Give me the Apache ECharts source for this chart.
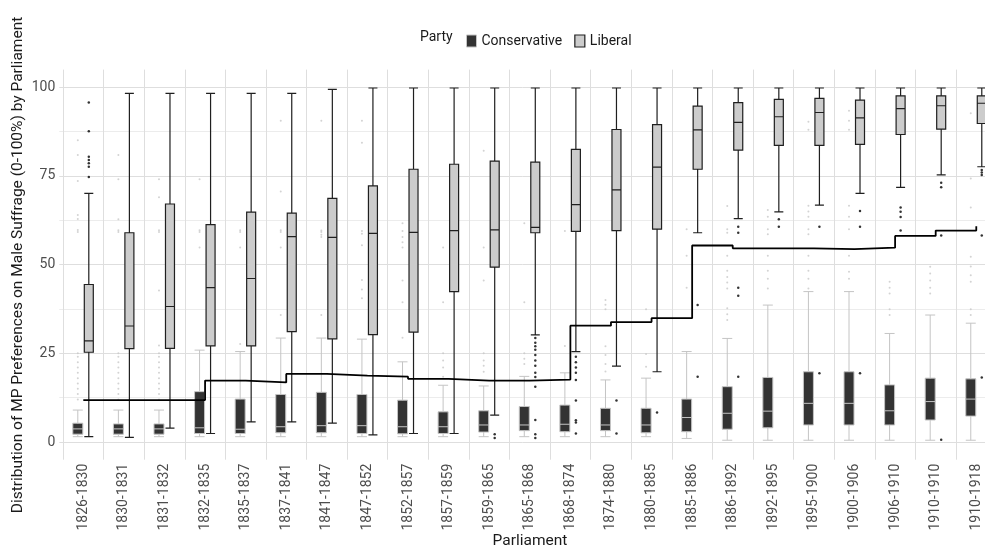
<!DOCTYPE html>
<html>
<head>
<meta charset="UTF-8">
<title>MP Preferences on Male Suffrage</title>
<script src="https://cdn.jsdelivr.net/npm/echarts@6/dist/echarts.min.js"></script>
<style>
  html, body { margin: 0; padding: 0; background: #fff; }
  #chart { width: 985px; height: 549px; }
</style>
</head>
<body>
<div id="chart"></div>
<script>
// parliaments (x categories)
var parliaments = ['1826-1830', '1830-1831', '1831-1832', '1832-1835', '1835-1837', '1837-1841',
  '1841-1847', '1847-1852', '1852-1857', '1857-1859', '1859-1865', '1865-1868', '1868-1874',
  '1874-1880', '1880-1885', '1885-1886', '1886-1892', '1892-1895', '1895-1900', '1900-1906',
  '1906-1910', '1910-1910', '1910-1918'];

// boxplot stats: [lower whisker, Q1, median, Q3, upper whisker]
var conservativeBox = [
  [1.5, 2.2, 3.7, 5.3, 9.0], [1.5, 2.2, 3.7, 5.1, 9.0], [1.5, 2.2, 3.7, 5.1, 9.0],
  [1.5, 2.4, 4.0, 14.2, 25.9], [1.5, 2.4, 3.6, 12.1, 25.5], [1.5, 2.6, 4.3, 13.4, 29.3],
  [1.5, 2.6, 4.6, 14.0, 29.3], [1.5, 2.4, 4.6, 13.4, 29.0], [1.5, 2.3, 4.3, 11.8, 22.6],
  [1.5, 2.4, 4.3, 8.5, 16.0], [1.5, 2.8, 4.8, 8.8, 15.8], [1.5, 3.2, 4.8, 10.0, 18.5],
  [1.5, 2.9, 5.0, 10.4, 19.5], [1.5, 3.2, 4.8, 9.5, 17.5], [1.5, 2.6, 4.8, 9.5, 18.0],
  [1.0, 2.9, 6.9, 12.1, 25.5], [0.5, 3.6, 8.1, 15.6, 29.2], [0.5, 4.0, 8.7, 18.2, 38.6],
  [0.5, 4.8, 10.9, 19.8, 42.4], [0.5, 4.8, 10.9, 19.8, 42.4], [0.5, 4.8, 8.8, 16.1, 30.6],
  [0.5, 6.2, 11.4, 18.0, 35.8], [0.5, 7.3, 12.1, 17.8, 33.5]
];
var liberalBox = [
  [1.5, 25.3, 28.5, 44.4, 70.1], [1.3, 26.3, 32.7, 59.0, 98.3], [3.9, 26.4, 38.2, 67.1, 98.3],
  [2.4, 27.1, 43.5, 61.3, 98.3], [5.7, 27.1, 46.1, 64.8, 98.3], [5.7, 31.1, 57.9, 64.5, 98.3],
  [5.3, 29.1, 57.7, 68.7, 99.4], [2.0, 30.3, 58.8, 72.2, 99.8], [2.4, 31.0, 59.1, 76.9, 99.8],
  [2.4, 42.4, 59.6, 78.3, 99.8], [7.6, 49.3, 59.8, 79.2, 99.8], [30.2, 59.0, 60.5, 78.9, 99.8],
  [25.5, 59.4, 66.9, 82.5, 99.8], [21.4, 59.6, 71.1, 88.1, 99.8], [19.8, 60.0, 77.5, 89.5, 99.8],
  [59.0, 76.9, 88.0, 94.7, 99.8], [63.0, 82.3, 90.1, 95.7, 99.8], [64.9, 83.6, 91.7, 96.6, 99.8],
  [66.8, 83.6, 92.9, 96.9, 99.8], [70.1, 83.9, 91.4, 96.4, 99.8], [71.8, 86.7, 94.0, 97.6, 99.8],
  [75.3, 88.2, 94.8, 97.6, 99.8], [77.6, 89.8, 95.5, 97.6, 99.8]
];

// outliers per parliament
var early = [12, 13.5, 15, 16.5, 18, 19.5, 21, 22.5, 24, 25];
var conservativeOut = [
  [85.1, 80.9, 73.6, 64.0, 62.9, 59.8, 59.2].concat(early),
  [80.9, 74.1, 62.8, 59.7, 59.2].concat(early),
  [74.1, 69.0, 59.7, 59.2, 42.7, 27.2].concat(early),
  [74.1, 59.7, 59.2, 54.8],
  [59.7, 59.2, 54.8, 27.6],
  [90.6, 70.6, 59.7, 59.2, 54.8, 35.8],
  [90.6, 59.6, 59.2, 58.4, 57.8, 35.8],
  [90.6, 84.4, 59.5, 58.7, 55.5, 45.7, 43.0, 40.5],
  [61.7, 59.5, 57.8, 56.3, 54.8, 45.5, 39.4, 29.4],
  [54.8, 39.4, 25.0, 23.0, 21.0, 18.4],
  [82.1, 54.8, 45.5, 25.0, 23.0, 21.5, 19.8],
  [61.7, 39.4, 25.0, 23.5, 22.0],
  [59.5, 27.1],
  [40.0, 38.7, 37.4, 27.0, 24.5, 22.0, 19.9],
  [37.4, 24.8, 21.2],
  [60.0, 52.5, 43.5],
  [66.5, 60.0, 59.0, 52.5, 48.3, 46.5, 45.0, 43.3, 37.7, 36.0, 34.4],
  [65.4, 63.5, 60.0, 58.6, 52.5, 48.3, 46.0, 43.3],
  [90.3, 88.0, 66.6, 65.0, 63.5, 60.0, 58.6, 52.5, 48.3, 46.0, 43.3],
  [93.4, 90.6, 88.0, 66.6, 63.5, 60.0, 52.5, 48.0, 46.0],
  [45.2, 43.5, 41.9, 37.4, 35.8],
  [49.4, 47.5, 45.5, 43.5, 41.9],
  [92.7, 74.3, 66.1, 52.2, 49.5, 47.0, 45.2, 37.4, 35.8]
];
var liberalOut = [
  [95.7, 87.6, 80.4, 79.5, 78.6, 77.6, 74.7],
  [], [], [], [], [], [], [], [], [],
  [2.2, 1.1],
  [29.3, 28.0, 27.0, 26.0, 24.5, 23.0, 21.5, 19.5, 18.3, 15.6, 6.2, 2.2, 1.1],
  [24.0, 22.5, 21.0, 19.5, 17.5, 11.7, 6.1, 5.5, 2.4],
  [11.7, 2.4],
  [8.3],
  [38.6, 18.4],
  [60.7, 59.0, 43.5, 41.2, 18.4],
  [62.8, 60.7],
  [60.7, 19.4],
  [65.1, 60.7, 19.4],
  [66.1, 64.9, 63.4, 59.6],
  [73.1, 71.8, 58.2, 0.6],
  [76.7, 76.0, 75.3, 58.2, 18.2]
];

// step line across parliaments
var stepValues = [11.8, 11.8, 11.8, 17.3, 16.8, 19.2, 18.7, 18.4, 17.8, 17.3, 17.3, 17.6,
  32.8, 33.8, 34.9, 55.4, 54.6, 54.6, 54.4, 54.8, 58.1, 59.6, 60.8];

var yTicks = [0, 25, 50, 75, 100];

function toPoints(list) {
  var pts = [];
  list.forEach(function (vals, i) {
    vals.forEach(function (v) { pts.push([i, v]); });
  });
  return pts;
}

var chart = echarts.init(document.getElementById('chart'));
var font = 'Roboto, "Noto Sans", sans-serif';
var bandW = 40.59;
var plotLeft = 83.3 - bandW / 2;
var plotW = bandW * parliaments.length;
var conStyle = { color: '#333333', borderColor: '#c4c4c4', borderWidth: 1 };
var libStyle = { color: '#cccccc', borderColor: '#1f1f1f', borderWidth: 1.2 };

chart.setOption({
  animation: false,
  textStyle: { fontFamily: font },
  grid: [
    { left: 59.3, top: 87.3, width: 945, height: 354.7, outerBoundsMode: 'none' },
    { left: plotLeft, top: 69.6, width: plotW, height: 390.1, outerBoundsMode: 'none' },
    { left: plotLeft - 5.5, top: 87.3, width: plotW, height: 354.7, outerBoundsMode: 'none' },
    { left: plotLeft + 5.5, top: 87.3, width: plotW, height: 354.7, outerBoundsMode: 'none' }
  ],
  legend: {
    data: [
      { name: 'Conservative', itemStyle: conStyle },
      { name: 'Liberal', itemStyle: libStyle }
    ],
    left: 461, top: 29,
    itemWidth: 10, itemHeight: 12, itemGap: 12,
    icon: 'rect',
    textStyle: { fontFamily: font, fontSize: 14, color: '#1a1a1a' }
  },
  graphic: [
    {
      type: 'text', left: 420, top: 30,
      style: { text: 'Party', font: '14px Roboto', fill: '#1a1a1a' }
    },
    {
      type: 'text', x: 530, y: 541,
      style: { text: 'Parliament', font: '15.5px Roboto', fill: '#1a1a1a', align: 'center', verticalAlign: 'middle' }
    },
    {
      type: 'text', x: 18, y: 265, rotation: Math.PI / 2,
      style: {
        text: 'Distribution of MP Preferences on Male Suffrage (0-100%) by Parliament',
        font: '15.5px Roboto', fill: '#1a1a1a', align: 'center', verticalAlign: 'middle'
      }
    }
  ],
  xAxis: [
    { gridIndex: 0, type: 'value', show: false, min: 0, max: 1 },
    {
      gridIndex: 1, type: 'category', data: parliaments,
      axisLine: { show: false }, axisTick: { show: false },
      axisLabel: { rotate: 90, color: '#4d4d4d', fontSize: 14, margin: 4, fontFamily: font },
      splitLine: { show: true, interval: 0, lineStyle: { color: '#dedede', width: 1 } }
    },
    { gridIndex: 2, type: 'category', data: parliaments, show: false },
    { gridIndex: 3, type: 'category', data: parliaments, show: false }
  ],
  yAxis: [
    {
      gridIndex: 0, type: 'value', min: yTicks[0], max: yTicks[yTicks.length - 1], interval: 25,
      axisLine: { show: false }, axisTick: { show: false },
      axisLabel: { color: '#4d4d4d', fontSize: 14, margin: 4, fontFamily: font },
      splitLine: { show: true, lineStyle: { color: '#dedede', width: 1 } },
      minorTick: { show: false, splitNumber: 2 },
      minorSplitLine: { show: true, lineStyle: { color: '#ececec', width: 1 } }
    },
    { gridIndex: 1, type: 'value', min: -5, max: 105, show: false, splitLine: { show: false } },
    { gridIndex: 2, type: 'value', min: 0, max: 100, show: false, splitLine: { show: false } },
    { gridIndex: 3, type: 'value', min: 0, max: 100, show: false, splitLine: { show: false } }
  ],
  series: [
    {
      name: 'Conservative', type: 'boxplot', xAxisIndex: 2, yAxisIndex: 2,
      data: conservativeBox, boxWidth: [10, 10],
      itemStyle: conStyle, z: 3
    },
    {
      name: 'Conservative outliers', type: 'scatter', xAxisIndex: 2, yAxisIndex: 2,
      data: toPoints(conservativeOut), symbolSize: 2,
      itemStyle: { color: '#c8c8c8' }, z: 2
    },
    {
      name: 'Liberal', type: 'boxplot', xAxisIndex: 3, yAxisIndex: 3,
      data: liberalBox, boxWidth: [9, 9],
      itemStyle: libStyle, z: 4
    },
    {
      name: 'Liberal outliers', type: 'scatter', xAxisIndex: 3, yAxisIndex: 3,
      data: toPoints(liberalOut), symbolSize: 2.5,
      itemStyle: { color: '#000000' }, z: 4
    },
    {
      name: 'Overall', type: 'line', xAxisIndex: 1, yAxisIndex: 1,
      data: stepValues, step: 'end', symbol: 'none',
      lineStyle: { color: '#000000', width: 1.8 }, z: 5
    }
  ]
});
</script>
</body>
</html>
